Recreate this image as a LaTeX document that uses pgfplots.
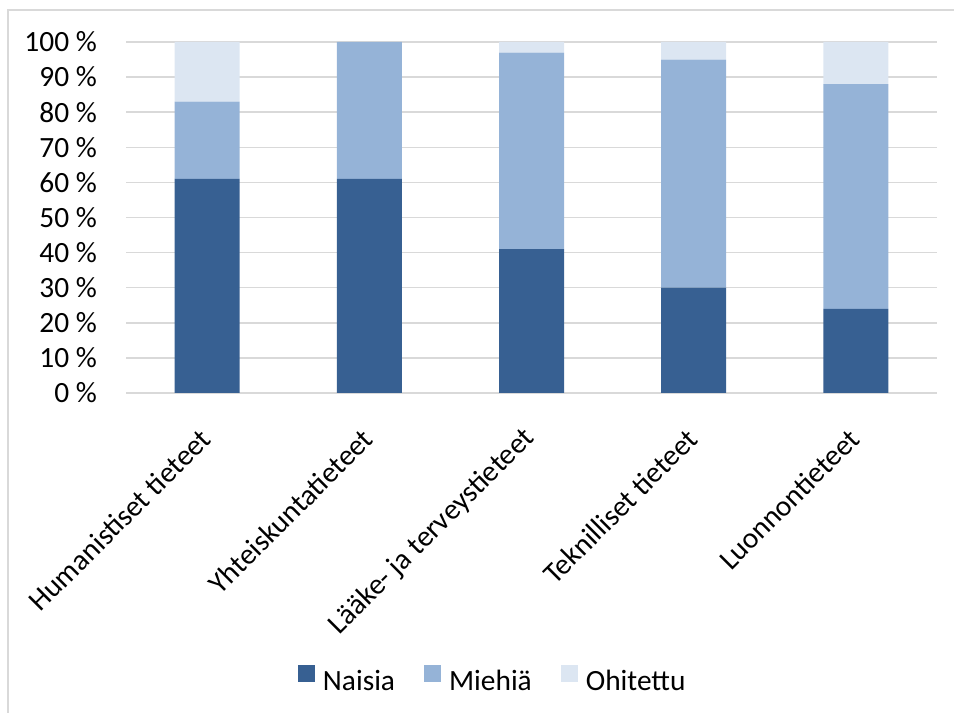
\documentclass[border=0pt]{standalone}
\usepackage{fontspec}
\setmainfont{Carlito}
\usepackage{pgfplots}
\pgfplotsset{compat=1.18}
\definecolor{cA}{HTML}{376092}
\definecolor{cB}{HTML}{95B3D7}
\definecolor{cC}{HTML}{DCE6F2}
\definecolor{gridc}{HTML}{D9D9D9}
\begin{document}
\fontsize{29.5}{34}\selectfont
\begin{tikzpicture}
\useasboundingbox (0,0) rectangle (954bp,713bp);
\draw[gridc, line width=1.5bp] (8bp,0) -- (8bp,703bp) -- (954bp,703bp);
\begin{axis}[
  at={(126bp,320bp)}, anchor=south west,
  scale only axis, width=811bp, height=351bp,
  ybar stacked, bar width=65bp,
  xmin=-0.5, xmax=4.5, ymin=0, ymax=100,
  xtick={0,1,2,3,4},
  xticklabels={Humanistiset tieteet, Yhteiskuntatieteet, Lääke- ja terveystieteet, Teknilliset tieteet, Luonnontieteet},
  ytick={0,10,...,100},
  yticklabel={\pgfmathparse{int(\tick)}\pgfmathresult\ \%},
  ymajorgrids, grid style={gridc, line width=1.5bp},
  axis line style={draw=none},
  major tick length=0pt,
  tick style={draw=none},
  yticklabel style={anchor=east, inner sep=0pt, xshift=-29bp, font=\fontsize{29.5}{34}\selectfont},
  xticklabel style={rotate=45, anchor=east, inner sep=0pt, xshift=-30bp, yshift=-28bp, font=\fontsize{29.5}{34}\selectfont},
  legend style={at={(axis description cs:0.451,-0.818)}, anchor=center, draw=none, legend columns=3,
    /tikz/every even column/.style={column sep=29bp}, font=\fontsize{29.5}{34}\selectfont,
    nodes={inner sep=0pt}},
  legend image code/.code={\fill[#1] (0bp,0bp) rectangle (17bp,17bp); \path (25bp,0bp);},
]
\addplot[fill=cA, draw=none] coordinates {(0,61) (1,61) (2,41) (3,30) (4,24)};
\addplot[fill=cB, draw=none] coordinates {(0,22) (1,39) (2,56) (3,65) (4,64)};
\addplot[fill=cC, draw=none] coordinates {(0,17) (1,0) (2,3) (3,5) (4,12)};
\legend{Naisia, Miehiä, Ohitettu}
\end{axis}
\end{tikzpicture}
\end{document}
